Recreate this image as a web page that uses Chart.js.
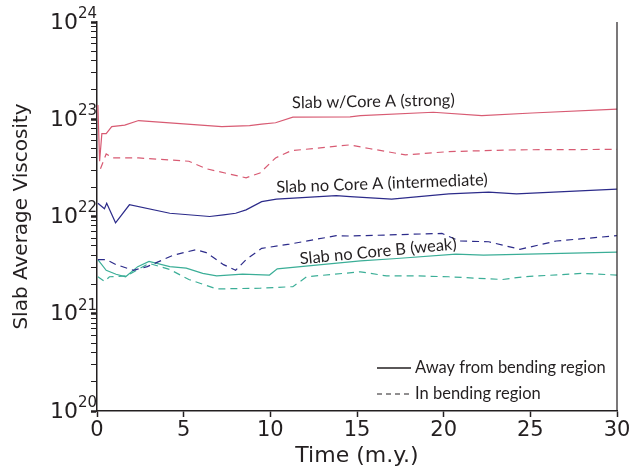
<!DOCTYPE html>
<html>
<head>
<meta charset="utf-8">
<script src="https://cdn.jsdelivr.net/npm/chart.js@4.4.0/dist/chart.umd.min.js"></script>
<style>
  html, body { margin: 0; padding: 0; background: #fff; }
  #wrap { width: 634px; height: 469px; }
</style>
</head>
<body>
<div id="wrap"><canvas id="viscChart" width="634" height="469"></canvas></div>
<script>
// Slab w/Core A (strong)
const strongTime = [0.05, 0.15, 0.28, 0.53, 0.85, 1.6, 2.4, 7.2, 8.8, 9.5, 10.3, 11.3, 14.6, 15.2, 19.4, 22.2, 25.1, 30];
const strongAway = [1.4e23, 3.7e22, 7.1e22, 7.1e22, 8.4e22, 8.7e22, 9.7e22, 8.4e22, 8.6e22, 8.9e22, 9.2e22, 1.05e23, 1.06e23, 1.09e23, 1.18e23, 1.09e23, 1.16e23, 1.27e23];
const strongBendTime = [0.2, 0.53, 0.9, 2.4, 5.3, 6.3, 8.6, 9.4, 10.3, 11.2, 14.6, 15.7, 17.8, 20.3, 24.2, 30];
const strongBend = [3.1e22, 4.4e22, 4.0e22, 4.0e22, 3.7e22, 3.1e22, 2.5e22, 2.8e22, 4.0e22, 4.75e22, 5.45e22, 5.0e22, 4.3e22, 4.65e22, 4.85e22, 4.9e22];

// Slab no Core A (intermediate)
const interTime = [0.05, 0.43, 0.56, 1.07, 1.87, 4.2, 6.5, 7.3, 8.0, 8.6, 9.5, 10.35, 13.8, 14.6, 17.0, 20.3, 22.6, 24.2, 30];
const interAway = [1.37e22, 1.2e22, 1.37e22, 8.6e21, 1.32e22, 1.08e22, 1.0e22, 1.04e22, 1.08e22, 1.17e22, 1.42e22, 1.51e22, 1.64e22, 1.6e22, 1.51e22, 1.71e22, 1.78e22, 1.71e22, 1.91e22];
const interBendTime = [0.05, 0.53, 1.1, 2.1, 2.9, 4.4, 5.7, 6.3, 7.3, 8.0, 8.6, 9.5, 11.1, 13.8, 14.6, 19.9, 20.9, 22.6, 24.4, 26.5, 30];
const interBend = [3.6e21, 3.6e21, 3.2e21, 2.8e21, 3.05e21, 4.0e21, 4.55e21, 4.25e21, 3.2e21, 2.8e21, 3.6e21, 4.7e21, 5.2e21, 6.35e21, 6.3e21, 6.7e21, 5.6e21, 5.5e21, 4.6e21, 5.6e21, 6.35e21];

// Slab no Core B (weak)
const weakTime = [0.05, 0.53, 1.1, 1.65, 2.35, 3.0, 4.2, 5.15, 6.1, 6.9, 8.4, 9.95, 10.4, 15.2, 17.3, 20.7, 22.3, 30];
const weakAway = [3.6e21, 2.8e21, 2.55e21, 2.4e21, 3.05e21, 3.45e21, 3.05e21, 2.95e21, 2.6e21, 2.45e21, 2.55e21, 2.5e21, 2.9e21, 3.5e21, 3.7e21, 4.1e21, 4.0e21, 4.3e21];
const weakBendTime = [0.05, 0.43, 0.72, 1.7, 3.0, 4.2, 5.3, 6.9, 9.4, 11.3, 12.1, 15.2, 16.7, 18.4, 20.3, 23.4, 24.6, 28.0, 30];
const weakBend = [2.4e21, 2.15e21, 2.4e21, 2.45e21, 3.3e21, 2.85e21, 2.25e21, 1.8e21, 1.83e21, 1.9e21, 2.4e21, 2.7e21, 2.45e21, 2.45e21, 2.4e21, 2.25e21, 2.4e21, 2.6e21, 2.5e21];

const xTicks = [0, 5, 10, 15, 20, 25, 30];
const yDecades = [20, 21, 22, 23, 24];

const RED = '#d85b73';
const BLUE = '#2c2b8a';
const TEAL = '#3bae97';
const INK = '#231f20';

function toPoints(xs, ys) {
    return xs.map((x, i) => ({ x: x, y: ys[i] }));
}

function series(label, xs, ys, color, dashed) {
    return {
        label: label,
        data: toPoints(xs, ys),
        borderColor: color,
        borderWidth: 1.2,
        borderDash: dashed ? [7, 5] : [],
        pointRadius: 0,
        tension: 0,
        fill: false
    };
}

function isMajor(v) {
    const e = Math.log10(v);
    return Math.abs(e - Math.round(e)) < 1e-9;
}

// curve labels (alphabetic baseline), placed in data units
const notes = [
    { text: 'Slab w/Core A (strong)', x: 15.95, y: 1.34e23, rot: -1.0 },
    { text: 'Slab no Core A (intermediate)', x: 16.45, y: 1.92e22, rot: -2.1 },
    { text: 'Slab no Core B (weak)', x: 16.25, y: 3.85e21, rot: -5.5 }
];

const annotatePlugin = {
    id: 'annotate',
    afterDatasetsDraw(chart) {
        const ctx = chart.ctx;
        const xs = chart.scales.x, ys = chart.scales.y;
        const area = chart.chartArea;
        ctx.save();
        ctx.fillStyle = INK;

        // y tick labels 10^n
        yDecades.forEach(d => {
            const py = ys.getPixelForValue(Math.pow(10, d));
            ctx.font = '22px "DejaVu Sans"';
            ctx.textAlign = 'right';
            ctx.textBaseline = 'middle';
            ctx.fillText('10', 78, py + 1);
            ctx.font = '15px "DejaVu Sans"';
            ctx.textAlign = 'left';
            ctx.fillText(String(d), 78, py - 8);
        });

        ctx.font = '16.5px Lato, "Open Sans", sans-serif';
        ctx.textAlign = 'center';
        ctx.textBaseline = 'alphabetic';
        notes.forEach(n => {
            ctx.save();
            ctx.translate(xs.getPixelForValue(n.x), ys.getPixelForValue(n.y));
            ctx.rotate(n.rot * Math.PI / 180);
            ctx.fillText(n.text, 0, 0);
            ctx.restore();
        });

        // legend
        ctx.textAlign = 'left';
        ctx.textBaseline = 'middle';
        ctx.strokeStyle = INK;
        ctx.lineWidth = 1.6;
        ctx.beginPath();
        ctx.moveTo(377, 368);
        ctx.lineTo(411, 368);
        ctx.stroke();
        ctx.lineWidth = 1;
        ctx.setLineDash([5, 4]);
        ctx.beginPath();
        ctx.moveTo(377, 394);
        ctx.lineTo(411, 394);
        ctx.stroke();
        ctx.setLineDash([]);
        ctx.fillText('Away from bending region', 415, 368);
        ctx.fillText('In bending region', 415, 394);

        // right frame line
        ctx.lineWidth = 1.2;
        ctx.beginPath();
        ctx.moveTo(area.right, area.top);
        ctx.lineTo(area.right, area.bottom);
        ctx.stroke();
        ctx.restore();
    }
};

const ctx = document.getElementById('viscChart').getContext('2d');
new Chart(ctx, {
    type: 'line',
    data: {
        datasets: [
            series('Slab w/Core A (strong) away', strongTime, strongAway, RED, false),
            series('Slab w/Core A (strong) bending', strongBendTime, strongBend, RED, true),
            series('Slab no Core A (intermediate) away', interTime, interAway, BLUE, false),
            series('Slab no Core A (intermediate) bending', interBendTime, interBend, BLUE, true),
            series('Slab no Core B (weak) away', weakTime, weakAway, TEAL, false),
            series('Slab no Core B (weak) bending', weakBendTime, weakBend, TEAL, true)
        ]
    },
    options: {
        responsive: false,
        animation: false,
        layout: { padding: { top: 22, right: 17, left: 10, bottom: 0 } },
        plugins: { legend: { display: false }, tooltip: { enabled: false } },
        scales: {
            x: {
                type: 'linear',
                min: 0,
                max: 30,
                afterBuildTicks: scale => { scale.ticks = xTicks.map(v => ({ value: v })); },
                afterFit: scale => { scale.height = 58; },
                ticks: { color: INK, font: { family: '"DejaVu Sans"', size: 21 }, padding: 1, maxRotation: 0 },
                grid: { drawOnChartArea: false, tickLength: 6, tickWidth: 1.5, tickColor: INK },
                border: { color: INK, width: 1.5 },
                title: { display: true, text: 'Time (m.y.)', color: INK, font: { family: '"DejaVu Sans"', size: 22 }, padding: { top: 0, bottom: 0 } }
            },
            y: {
                type: 'logarithmic',
                min: 1e20,
                max: 1e24,
                afterBuildTicks: scale => {
                    const t = [];
                    yDecades.forEach(d => {
                        for (let k = 1; k <= 9; k++) {
                            const v = k * Math.pow(10, d);
                            if (v <= 1e24 * 1.0001) t.push({ value: v });
                        }
                    });
                    scale.ticks = t;
                },
                afterFit: scale => { scale.width = 87; },
                ticks: { autoSkip: false, padding: 0, callback: () => '' },
                grid: {
                    drawOnChartArea: false,
                    tickLength: 6,
                    tickColor: INK,
                    tickWidth: c => (c.tick && isMajor(c.tick.value)) ? 2.5 : 1
                },
                border: { color: INK, width: 1.5 },
                title: { display: true, text: 'Slab Average Viscosity', color: INK, font: { family: '"DejaVu Sans"', size: 20 }, padding: { top: 0, bottom: 0 } }
            }
        }
    },
    plugins: [annotatePlugin]
});
</script>
</body>
</html>
